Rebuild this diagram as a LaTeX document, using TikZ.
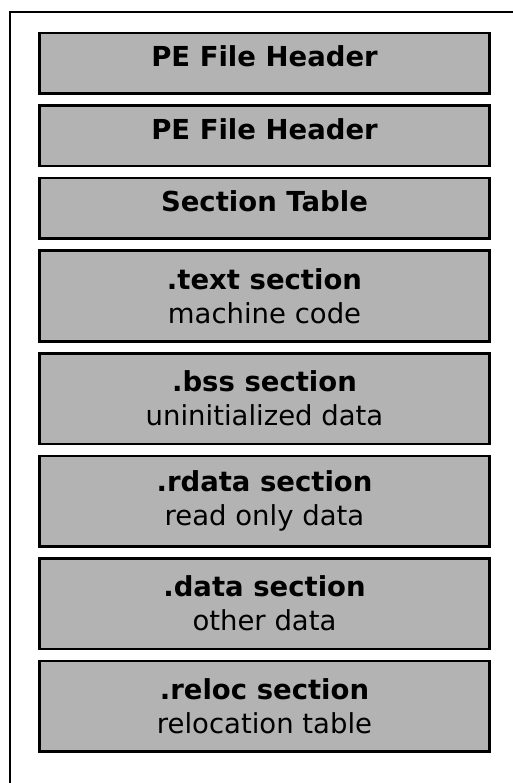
\documentclass[tikz,border=0pt]{standalone}
\usepackage{fontspec}
\setmainfont{DejaVu Sans}
\usetikzlibrary{positioning}

\definecolor{secgray}{RGB}{179,179,179}

\tikzset{
  hdrbox/.style={draw, line width=2.5pt, fill=secgray,
    minimum width=450pt, minimum height=60.5pt,
    text height=20pt, text depth=13pt,
    font=\bfseries\fontsize{27.5}{34}\selectfont},
  secbox/.style={hdrbox, minimum height=90.5pt, align=center,
    text height={}, text depth={},
    font=\fontsize{27.5}{34}\selectfont},
  node distance=9.5pt
}

\begin{document}
\begin{tikzpicture}[x=1pt,y=-1pt]
  \useasboundingbox (0,0) rectangle (513,783);
  % outer frame
  \draw[line width=1.5pt] (10,783) |- (513,12);

  % headers
  \node[hdrbox] (pehdr) at (264.5,63.5) {PE File Header};
  \node[hdrbox, below=of pehdr] (pehdrb) {PE File Header};
  \node[hdrbox, below=of pehdrb] (sectab) {Section Table};

  % sections
  \node[secbox, below=of sectab] (text) {\textbf{.text section}\\machine code};
  \node[secbox, below=of text] (bss) {\textbf{.bss section}\\uninitialized data};
  \node[secbox, below=of bss] (rdata) {\textbf{.rdata section}\\read only data};
  \node[secbox, below=of rdata] (data) {\textbf{.data section}\\other data};
  \node[secbox, below=of data] (reloc) {\textbf{.reloc section}\\relocation table};
\end{tikzpicture}
\end{document}
